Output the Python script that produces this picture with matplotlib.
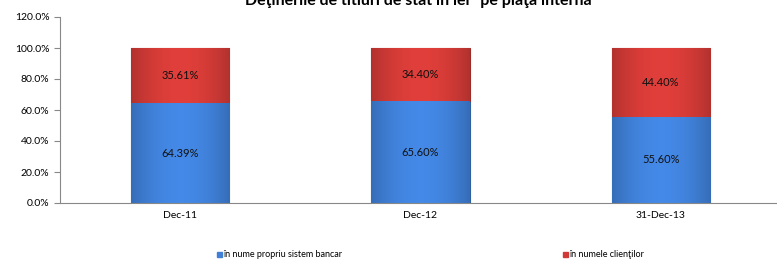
import matplotlib
matplotlib.use('Agg')
import numpy as np
import matplotlib.pyplot as plt
from matplotlib.colors import to_rgb
from matplotlib.ticker import PercentFormatter

plt.rcParams['font.family'] = ['Lato', 'DejaVu Sans']

perioade = ['Dec-11', 'Dec-12', '31-Dec-13']
propriu = [64.39, 65.60, 55.60]
clienti = [35.61, 34.40, 44.40]
serii = ['în nume propriu sistem bancar', 'în numele clienţilor']
culori = ['#3f7fd6', '#d03a36']

fig = plt.figure(figsize=(7.77, 2.62), dpi=100)
ax = fig.add_axes([60 / 777, 1 - 203 / 262, 721 / 777, 186 / 262])

x = range(len(perioade))
b1 = ax.bar(x, propriu, width=0.41, color=culori[0], edgecolor='#2f5f9f', linewidth=0.8)
b2 = ax.bar(x, clienti, width=0.41, bottom=propriu, color=culori[1], edgecolor='#9a2b28', linewidth=0.8)


def umbrire(bare, culoare):
    # gradient usor, mai inchis la margini
    baza = np.array(to_rgb(culoare))
    t = np.linspace(-1, 1, 60)
    fact = 1.08 - 0.22 * t ** 2
    img = np.clip(baza[None, :] * fact[:, None], 0, 1)[None, :, :]
    for b in bare:
        x0, y0 = b.get_x(), b.get_y()
        im = ax.imshow(img, extent=[x0, x0 + b.get_width(), y0, y0 + b.get_height()],
                       aspect='auto', zorder=b.get_zorder(), interpolation='bilinear')
        im.set_clip_path(b)


umbrire(b1, culori[0])
umbrire(b2, culori[1])

for i in x:
    ax.text(i, propriu[i] / 2, f'{propriu[i]:.2f}%', ha='center', va='center', fontsize=8, color='#111111', zorder=5)
    ax.text(i, propriu[i] + clienti[i] / 2, f'{clienti[i]:.2f}%', ha='center', va='center', fontsize=8, color='#111111', zorder=5)

ax.set_xlim(-0.5, 2.5)
ax.set_ylim(0, 120)
ax.set_yticks(range(0, 121, 20))
ax.yaxis.set_major_formatter(PercentFormatter(decimals=1))
ax.set_xticks(list(x))
ax.set_xticklabels(perioade)
ax.tick_params(axis='both', labelsize=7.5, length=4, color='#888888')
ax.tick_params(axis='x', length=0, pad=6)
for s in ['top', 'right']:
    ax.spines[s].set_visible(False)
ax.spines['left'].set_color('#888888')
ax.spines['bottom'].set_color('#888888')

fig.text(418 / 777, 1 - 5 / 262, 'Deţinerile de titluri de stat în lei* pe piaţa internă',
         ha='center', va='baseline', fontsize=11.5, fontweight='bold')

# legenda
for xp, nume, c in zip([217, 563], serii, culori):
    fig.patches.append(plt.Rectangle((xp / 777, 1 - 257 / 262), 5 / 777, 5 / 262,
                                     transform=fig.transFigure, color=c, figure=fig))
    fig.text((xp + 6) / 777, 1 - 254.5 / 262, nume, ha='left', va='center', fontsize=6.5)

fig.savefig('out.png', dpi=100)
